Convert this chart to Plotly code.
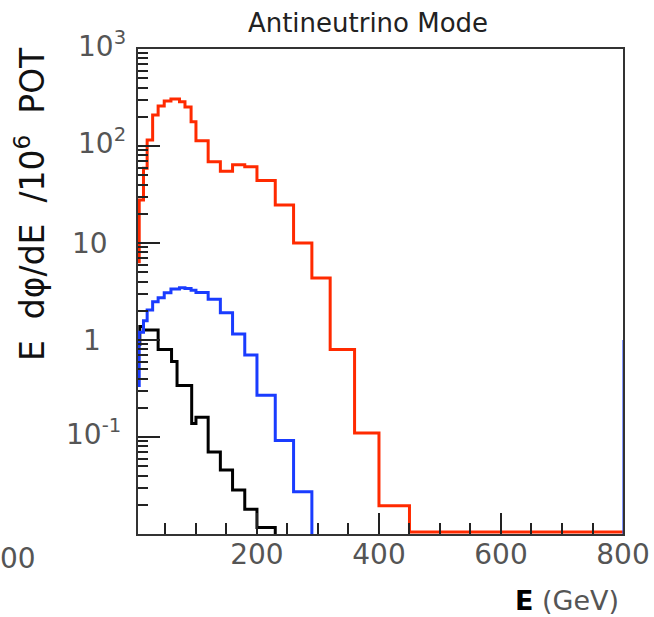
import math
import plotly.graph_objects as go

# ---------------- data ----------------
red_edges = [5, 7, 14, 20, 29, 38, 48, 59, 73, 82, 92, 100, 120, 140, 160, 180,
             200, 230, 260, 290, 320, 360, 400, 450, 800]
red_values = [6.4, 27.8, 59, 115, 209, 258, 291, 305, 286, 252, 178, 113, 69, 55,
              64, 61, 44, 24.6, 10.0, 4.35, 0.80, 0.110, 0.0195, 0.0105]

blue_edges = [5, 7, 14, 20, 29, 38, 48, 59, 73, 82, 92, 100, 120, 140, 160, 180,
              200, 230, 260, 290]
blue_values = [0.34, 1.2, 1.58, 2.04, 2.48, 2.73, 3.07, 3.35, 3.45, 3.4, 3.25,
               3.08, 2.63, 1.91, 1.15, 0.70, 0.27, 0.092, 0.0273]

black_edges = [5, 8, 14, 38, 60, 69, 93, 100, 120, 140, 160, 180, 200, 230]
black_values = [0.9, 1.38, 1.27, 0.80, 0.60, 0.34, 0.138, 0.16, 0.070, 0.0457,
                0.0285, 0.018, 0.0117]

blue_edge_x = [800, 800]
blue_edge_y = [0.01, 1.0]

y_tick_values = [1000, 100, 10, 1, 0.1]
y_tick_labels = ["10<sup>3</sup>", "10<sup>2</sup>", "10", "1", "10<sup>-1</sup>"]
x_tick_values = [200, 400, 600, 800]
x_tick_labels = ["200", "400", "600", "800"]

# ---------------- figure ----------------
W, H = 654, 617
L, R, T, B = 138, 31, 49, 83
PW, PH = W - L - R, H - T - B

def step_xy(edges, values, drop=False):
    x = list(edges)
    y = list(values) + [values[-1]]
    if drop:
        x.append(edges[-1])
        y.append(1e-6)
    return x, y

fig = go.Figure()
for edges, vals, col, drop in [(black_edges, black_values, "#000000", True),
                               (blue_edges, blue_values, "#1a3cff", True),
                               (red_edges, red_values, "#ff2a00", False)]:
    x, y = step_xy(edges, vals, drop)
    fig.add_trace(go.Scatter(x=x, y=y, mode="lines",
                             line=dict(shape="hv", color=col, width=3),
                             showlegend=False, hoverinfo="skip"))

fig.add_trace(go.Scatter(x=blue_edge_x, y=blue_edge_y, mode="lines",
                         line=dict(color="#3050ff", width=1.2),
                         showlegend=False, hoverinfo="skip"))

tick_font = dict(family="DejaVu Sans", size=28, color="#555555")

fig.update_xaxes(range=[5, 800], tickvals=x_tick_values, ticktext=x_tick_labels,
                 ticks="inside", ticklen=21, tickwidth=1.5, tickcolor="#222222",
                 minor=dict(dtick=50, tick0=0, ticks="inside", ticklen=11,
                            tickwidth=1.5, tickcolor="#222222"),
                 showline=True, linecolor="#333333", linewidth=2, mirror=True,
                 showgrid=False, zeroline=False, tickfont=tick_font,
                 ticklabelstandoff=-6, automargin=False)

minor_y = [m * 10.0 ** e for e in range(-2, 3) for m in range(2, 10)]
fig.update_yaxes(type="log", range=[-2, 3], tickvals=[0.01] + y_tick_values,
                 showticklabels=False,
                 ticks="inside", ticklen=22, tickwidth=1.5, tickcolor="#222222",
                 minor=dict(tickvals=minor_y, ticks="inside", ticklen=10,
                            tickwidth=1.5, tickcolor="#222222"),
                 showline=True, linecolor="#333333", linewidth=2, mirror=True,
                 showgrid=False, zeroline=False, automargin=False)

annotations = []
right_edges = [128, 128, 110, 103, 123]
for val, lab, re_ in zip(y_tick_values, y_tick_labels, right_edges):
    annotations.append(dict(x=0, xref="paper", y=math.log10(val), yref="y",
                            text=lab, showarrow=False, xanchor="right", yanchor="middle",
                            xshift=re_ - L, yshift=5 if "sup" in lab else 0,
                            font=tick_font))

# y-axis title
annotations.append(dict(x=(30 - L) / PW, xref="paper", y=(T + PH - 204) / PH, yref="paper",
                        text="E \u00a0d\u03c6/dE \u00a0/10<sup>6</sup> \u00a0POT", textangle=-90,
                        showarrow=False, xanchor="center", yanchor="middle",
                        font=dict(family="DejaVu Sans", size=33, color="#111111")))
# x-axis title
annotations.append(dict(x=(621 - L) / PW, xref="paper", y=-(600 - T - PH) / PH, yref="paper",
                        text="<span style='color:#000000'><b>E</b></span> (GeV)",
                        showarrow=False, xanchor="right", yanchor="middle",
                        font=dict(family="DejaVu Sans", size=27, color="#555555")))
# partial label of neighbouring panel
annotations.append(dict(x=(38 - L) / PW, xref="paper", y=-(558 - T - PH) / PH, yref="paper",
                        text="00", showarrow=False, xanchor="right", yanchor="middle",
                        font=tick_font))

fig.update_layout(
    width=W, height=H, margin=dict(l=L, r=R, t=T, b=B, autoexpand=False),
    paper_bgcolor="white", plot_bgcolor="white",
    title=dict(text="Antineutrino Mode", x=368 / W, xanchor="center",
               y=1 - 23 / H, yanchor="middle",
               font=dict(family="DejaVu Sans", size=26, color="#222222")),
    annotations=annotations,
)

fig.write_html("out.html")
